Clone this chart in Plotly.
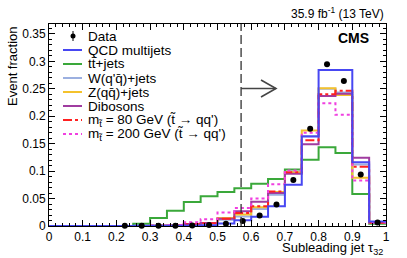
import plotly.graph_objects as go

# ---------------- data ----------------
bin_edges = [round(0.05 * i, 2) for i in range(21)]
qcd = [0, 0, 0, 0, 0.0002, 0.0003, 0.0004, 0.0005, 0.0008, 0.0012, 0.0045, 0.0105,
       0.017, 0.036, 0.075, 0.163, 0.284, 0.284, 0.116, 0.008]
ttbar = [0, 0, 0, 0, 0, 0.004, 0.0145, 0.028, 0.0435, 0.054, 0.062, 0.069,
         0.077, 0.0855, 0.103, 0.1205, 0.1435, 0.133, 0.0585, 0.004]
wjets = [0, 0, 0, 0, 0, 0, 0.0003, 0.001, 0.003, 0.005, 0.0115, 0.0175,
         0.031, 0.057, 0.098, 0.164, 0.250, 0.243, 0.112, 0.006]
zjets = [0, 0, 0, 0, 0, 0, 0.0003, 0.001, 0.0035, 0.0055, 0.0145, 0.021,
         0.034, 0.062, 0.098, 0.174, 0.251, 0.2385, 0.088, 0.006]
dibosons = [0, 0, 0, 0, 0, 0, 0.0003, 0.001, 0.0035, 0.0055, 0.013, 0.027,
            0.044, 0.060, 0.095, 0.149, 0.237, 0.241, 0.1245, 0.006]
sig80 = [0, 0, 0, 0, 0, 0, 0.0003, 0.001, 0.003, 0.005, 0.013, 0.0235,
         0.036, 0.063, 0.098, 0.156, 0.240, 0.2465, 0.108, 0.006]
sig200 = [0, 0, 0, 0, 0, 0, 0.001, 0.002, 0.007, 0.0125, 0.0245, 0.033,
          0.050, 0.076, 0.101, 0.170, 0.2235, 0.2025, 0.083, 0.007]
data_x = [0.225, 0.275, 0.325, 0.375, 0.425, 0.475, 0.525, 0.575, 0.625, 0.675,
          0.725, 0.775, 0.825, 0.875, 0.925, 0.975]
data_y = [0.0003, 0.0004, 0.0004, 0.0005, 0.0008, 0.002, 0.004, 0.009, 0.019, 0.039,
          0.084, 0.177, 0.2945, 0.264, 0.094, 0.0065]
cut_value = 0.57
x_ticks = [round(0.1 * i, 1) for i in range(11)]
x_ticklabels = ["0", "0.1", "0.2", "0.3", "0.4", "0.5", "0.6", "0.7", "0.8", "0.9", "1"]
y_ticks = [0, 0.05, 0.1, 0.15, 0.2, 0.25, 0.3, 0.35]
y_ticklabels = ["0", "0.05", "0.1", "0.15", "0.2", "0.25", "0.3", "0.35"]

legend_labels = [
    "Data",
    "QCD multijets",
    "tt\u0304+jets",
    "W(q'q\u0304)+jets",
    "Z(qq\u0304)+jets",
    "Dibosons",
    "m<sub>t\u0303</sub> = 80 GeV (t\u0303 \u2192 qq')",
    "m<sub>t\u0303</sub> = 200 GeV (t\u0303 \u2192 qq')",
]

# ---------------- style ----------------
FONT = "Liberation Sans, Arial, Helvetica, sans-serif"
W, H = 407, 258
L, R, T, B = 49, 386, 24, 226

C_QCD = "#4747f2"
C_TT = "#3aa83a"
C_W = "#9cb0e0"
C_Z = "#f4c22c"
C_DIB = "#a03ca0"
C_S80 = "#ff2020"
C_S200 = "#f040e0"


def px(xp):
    return (xp - L) / (R - L)


def py(yp):
    return (B - yp) / (B - T)


def step(vals):
    return list(vals) + [vals[-1]]


fig = go.Figure()

hists = [
    (ttbar, C_TT, "solid", 2),
    (wjets, C_W, "solid", 2),
    (zjets, C_Z, "solid", 2),
    (dibosons, C_DIB, "solid", 2),
    (sig80, C_S80, "dashdot", 2),
    (sig200, C_S200, "dot", 2),
    (qcd, C_QCD, "solid", 2),
]
for vals, col, dash, w in hists:
    fig.add_trace(go.Scatter(
        x=bin_edges, y=step(vals), mode="lines", line_shape="hv",
        line=dict(color=col, width=w, dash=dash), showlegend=False,
        hoverinfo="skip"))

fig.add_trace(go.Scatter(
    x=data_x, y=data_y, mode="markers",
    marker=dict(color="black", size=6), cliponaxis=False, showlegend=False))

shapes = []
# cut line
shapes.append(dict(type="line", xref="x", yref="paper", x0=cut_value, x1=cut_value,
                   y0=0, y1=1, line=dict(color="#333333", width=1.3, dash="9px,4px")))
# arrow
arrow_y = (B - 88.5) / (B - T)
arrow_end = px(276)
head_x = px(261)
shapes.append(dict(type="line", xref="x", yref="paper", x0=cut_value, x1=arrow_end,
                   y0=arrow_y, y1=arrow_y, line=dict(color="#444444", width=1.6)))
shapes.append(dict(type="path", xref="paper", yref="paper",
                   path=f"M{head_x},{py(80)} L{arrow_end},{arrow_y} L{head_x},{py(97)}",
                   line=dict(color="#444444", width=1.6)))

# legend (manual, ROOT style)
leg_styles = [
    None,
    (C_QCD, "solid"),
    (C_TT, "solid"),
    (C_W, "solid"),
    (C_Z, "solid"),
    (C_DIB, "solid"),
    (C_S80, "dashdot"),
    (C_S200, "dot"),
]
annotations = []
for i, (lab, sty) in enumerate(zip(legend_labels, leg_styles)):
    yc = 36 + 14 * i
    if sty is None:
        shapes.append(dict(type="line", xref="paper", yref="paper", x0=px(73), x1=px(73),
                           y0=py(yc - 5), y1=py(yc + 5), line=dict(color="black", width=1)))
        shapes.append(dict(type="circle", xref="paper", yref="paper",
                           x0=px(70.5), x1=px(75.5), y0=py(yc + 2.5), y1=py(yc - 2.5),
                           fillcolor="black", line=dict(color="black", width=0)))
    else:
        col, dash = sty
        shapes.append(dict(type="line", xref="paper", yref="paper", x0=px(63), x1=px(82),
                           y0=py(yc), y1=py(yc),
                           line=dict(color=col, width=2, dash=dash)))
    annotations.append(dict(text=lab, xref="paper", yref="paper", x=px(86), y=py(yc),
                            xanchor="left", yanchor="middle", showarrow=False,
                            font=dict(family=FONT, size=13.5, color="black")))

annotations += [
    dict(text="35.9 fb<sup>-1</sup> (13 TeV)", xref="paper", yref="paper",
         x=px(386), y=py(13), xanchor="right", yanchor="middle", showarrow=False,
         font=dict(family=FONT, size=12, color="black")),
    dict(text="<b>CMS</b>", xref="paper", yref="paper", x=px(353), y=py(38),
         xanchor="center", yanchor="middle", showarrow=False,
         font=dict(family=FONT, size=14, color="black")),
    dict(text="Event fraction", xref="paper", yref="paper", x=px(12), y=py(24),
         xanchor="center", yanchor="top", textangle=-90, showarrow=False,
         font=dict(family=FONT, size=13, color="black")),
    dict(text="Subleading jet \u03c4<sub>32</sub>", xref="paper", yref="paper",
         x=px(385), y=py(248), xanchor="right", yanchor="middle", showarrow=False,
         font=dict(family=FONT, size=13, color="black")),
]

axis_common = dict(showgrid=False, zeroline=False, showline=True, linecolor="black",
                   linewidth=1, mirror="allticks", ticks="inside", ticklen=6,
                   tickwidth=1, tickcolor="black",
                   tickfont=dict(family=FONT, size=12, color="black"))

fig.update_layout(
    width=W, height=H,
    margin=dict(l=L, r=W - R, t=T, b=H - B, pad=0),
    paper_bgcolor="white", plot_bgcolor="white",
    showlegend=False,
    shapes=shapes, annotations=annotations,
    xaxis=dict(range=[0, 1], tickvals=x_ticks, ticktext=x_ticklabels,
               minor=dict(dtick=0.02, ticklen=3, ticks="inside", tickcolor="black",
                          tickwidth=1, showgrid=False),
               **axis_common),
    yaxis=dict(range=[0, 0.368], tickvals=y_ticks, ticktext=y_ticklabels,
               minor=dict(dtick=0.01, ticklen=3, ticks="inside", tickcolor="black",
                          tickwidth=1, showgrid=False),
               **axis_common),
)

fig.write_html("out.html", config={"displayModeBar": False},
               post_script="document.body.style.margin='0';document.body.style.padding='0';")
